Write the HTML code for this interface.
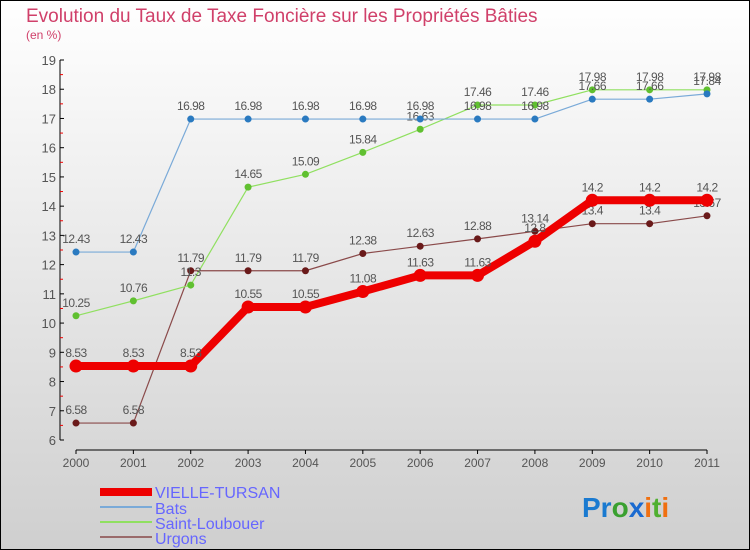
<!DOCTYPE html>
<html><head><meta charset="utf-8"><style>
body{margin:0}
#c{width:750px;height:550px;position:relative;overflow:hidden;font-family:"Liberation Sans",sans-serif}
</style></head><body>
<div id="c">
<svg id="s" width="750" height="550" xmlns="http://www.w3.org/2000/svg">
<defs><linearGradient id="bg" x1="0" y1="0" x2="0" y2="1"><stop offset="0" stop-color="#ffffff"/><stop offset="1" stop-color="#cfcfcf"/></linearGradient></defs>
<rect x="0.5" y="0.5" width="749" height="549" fill="url(#bg)" stroke="#000"/>
<text x="26" y="22" font-size="19" fill="#d0406a">Evolution du Taux de Taxe Foncière sur les Propriétés Bâties</text>
<text x="26" y="39" font-size="12" fill="#d0406a">(en %)</text>
<g id="axes"></g><g id="series"></g>
<g>
<rect x="100" y="488" width="52" height="8" fill="#e00"/>
<text x="155" y="498" font-size="16" fill="#6666ff">VIELLE-TURSAN</text>
<rect x="100" y="506" width="52" height="2" fill="#7aaad8"/>
<text x="155" y="514" font-size="16" fill="#6666ff">Bats</text>
<rect x="100" y="521" width="52" height="2" fill="#90e060"/>
<text x="155" y="529" font-size="16" fill="#6666ff">Saint-Loubouer</text>
<rect x="100" y="536" width="52" height="2" fill="#9a6a6a"/>
<text x="155" y="544" font-size="16" fill="#6666ff">Urgons</text>
</g>
<g font-size="28" font-weight="bold">
<text x="582" y="517"><tspan fill="#1a7ad0">Pr</tspan><tspan fill="#3aa030">o</tspan><tspan fill="#1a6ad0">x</tspan><tspan fill="#f07010">i</tspan><tspan fill="#50b030">t</tspan><tspan fill="#f07010">i</tspan></text>
</g>
</svg>
</div>
<script>
const years=["2000","2001","2002","2003","2004","2005","2006","2007","2008","2009","2010","2011"];
const yTicks=[6,7,8,9,10,11,12,13,14,15,16,17,18,19];
const vielle=[8.53,8.53,8.53,10.55,10.55,11.08,11.63,11.63,12.8,14.2,14.2,14.2];
const bats=[12.43,12.43,16.98,16.98,16.98,16.98,16.98,16.98,16.98,17.66,17.66,17.84];
const saint=[10.25,10.76,11.3,14.65,15.09,15.84,16.63,17.46,17.46,17.98,17.98,17.98];
const urgons=[6.58,6.58,11.79,11.79,11.79,12.38,12.63,12.88,13.14,13.4,13.4,13.67];
const NS="http://www.w3.org/2000/svg";
const X=i=>76+i*(707-76)/(years.length-1);
const Y=v=>440-(v-6)*(380/13);
function mk(t,a,p){const e=document.createElementNS(NS,t);for(const k in a)e.setAttribute(k,a[k]);p.appendChild(e);return e;}
const ax=document.getElementById('axes');
const yl=mk('line',{x1:60,y1:60,x2:60,y2:440,stroke:'#000'},ax);


yTicks.forEach(v=>{
 mk('line',{x1:60,y1:Y(v),x2:64,y2:Y(v),stroke:'#000'},ax);
 if(v<19)mk('line',{x1:60,y1:Y(v+0.5),x2:63,y2:Y(v+0.5),stroke:'#e00'},ax);
 const t=mk('text',{x:56,y:Y(v)+5,'font-size':13,fill:'#555','text-anchor':'end'},ax);t.textContent=v;
 
 
});
const xl=mk('line',{x1:76,y1:450,x2:707,y2:450,stroke:'#000'},ax);


years.forEach((y,i)=>{
 mk('line',{x1:X(i),y1:450,x2:X(i),y2:454,stroke:'#000'},ax);
 const t=mk('text',{x:X(i),y:467,'font-size':12,fill:'#555','text-anchor':'middle'},ax);t.textContent=y;
 
 
});
const sg=document.getElementById('series');
function series(data,name,col,dot,w,r){
 const g=mk('g',{},sg);
 
 
 mk('polyline',{points:data.map((v,i)=>X(i)+','+Y(v)).join(' '),fill:'none',stroke:col,'stroke-width':w,'stroke-linejoin':'round'},g);
 data.forEach((v,i)=>{
  const c=mk('circle',{cx:X(i),cy:Y(v),r:r,fill:dot},g);
  
  
  const t=mk('text',{x:X(i),y:Y(v)-9,'font-size':12,fill:'#555','text-anchor':'middle','letter-spacing':'-0.5'},g);t.textContent=v;
 });
}
series(urgons,'urgons','#8a4a4a','#6a1a1a',1.2,3.5);
series(saint,'saint-loubouer','#90e060','#60c030',1.2,3.5);
series(bats,'bats','#7aaad8','#2a7ac0',1.2,3.5);
series(vielle,'vielle-tursan','#ee0000','#ee0000',8,6.5);
</script>
</body></html>
